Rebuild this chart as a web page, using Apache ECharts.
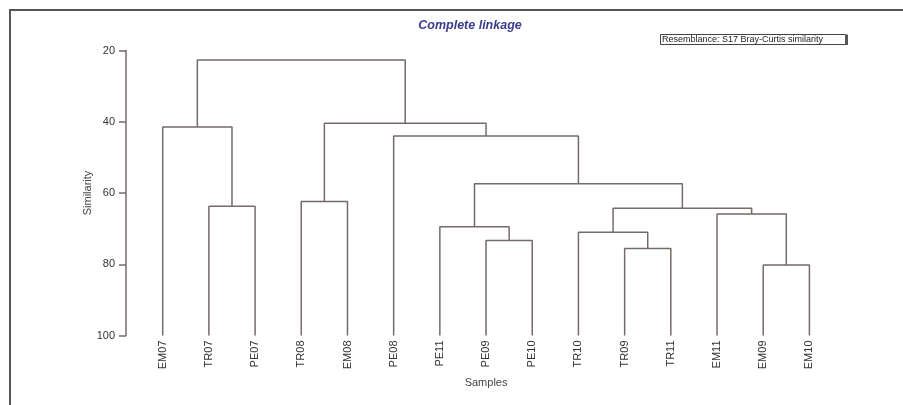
<!DOCTYPE html>
<html>
<head>
<meta charset="utf-8">
<script src="https://cdn.jsdelivr.net/npm/echarts@6/dist/echarts.min.js"></script>
<style>html,body{margin:0;padding:0;background:#fff}#c{width:903px;height:405px}</style>
</head>
<body>
<div id="c"></div>
<script>
// Leaves (left to right)
var leaves = ['EM07','TR07','PE07','TR08','EM08','PE08','PE11','PE09','PE10','TR10','TR09','TR11','EM11','EM09','EM10'];
// Merges: [childA, childB, similarity]; ids 0..14 are leaves, 15+k is merge k
var mergeA = [1, 0, 3, 7, 6, 10, 9, 13, 12, 21, 19, 5, 17, 16];
var mergeB = [2, 15, 4, 8, 18, 11, 20, 14, 22, 23, 24, 25, 26, 27];
var mergeH = [63.7, 41.5, 62.4, 73.3, 69.5, 75.6, 71.0, 80.2, 65.9, 64.3, 57.4, 44.0, 40.4, 22.7];
var yTicks = [20, 40, 60, 80, 100];

var nodeX = leaves.map(function(_, i){ return i; });
var nodeH = leaves.map(function(){ return 100; });
var series = [];
for (var k = 0; k < mergeA.length; k++) {
  var a = mergeA[k], b = mergeB[k], h = mergeH[k];
  series.push({
    type: 'line', xAxisIndex: 1, yAxisIndex: 0, symbol: 'none', silent: true,
    lineStyle: { color: '#746a68', width: 1.5 },
    data: [[nodeX[a], nodeH[a]], [nodeX[a], h], [nodeX[b], h], [nodeX[b], nodeH[b]]],
    animation: false
  });
  nodeX.push((nodeX[a] + nodeX[b]) / 2);
  nodeH.push(h);
}

var chart = echarts.init(document.getElementById('c'), null, { renderer: 'canvas' });
chart.setOption({
  animation: false,
  backgroundColor: '#fff',
  title: {
    text: 'Complete linkage', left: 465, top: 14, textAlign: 'center',
    textStyle: { fontFamily: 'Liberation Sans, Arial', fontSize: 12.5, fontWeight: 'bold', fontStyle: 'italic', color: '#3b3b8c' }
  },
  grid: { left: 139.6, top: 50.5, width: 692.9, height: 285 },
  yAxis: {
    type: 'value', inverse: true, min: 20, max: 100, interval: 20, offset: 13.6,
    name: 'Similarity', nameLocation: 'middle', nameGap: 33, nameRotate: 90, nameMoveOverlap: false,
    nameTextStyle: { fontFamily: 'Liberation Sans, Arial', fontSize: 11, color: '#444' },
    axisLine: { show: true, onZero: false, lineStyle: { color: '#746a68', width: 1.5 } },
    axisTick: { show: true, length: 7, lineStyle: { color: '#746a68', width: 1.5 } },
    axisLabel: { margin: 11, fontFamily: 'Liberation Sans, Arial', fontSize: 11, color: '#333',
      formatter: function(v){ return yTicks.indexOf(v) >= 0 ? String(v) : ''; } },
    splitLine: { show: false }
  },
  xAxis: [{
    type: 'category', data: leaves, boundaryGap: true, position: 'bottom',
    name: 'Samples', nameLocation: 'middle', nameGap: 42, nameMoveOverlap: false,
    nameTextStyle: { fontFamily: 'Liberation Sans, Arial', fontSize: 11, color: '#444' },
    axisLine: { show: false, onZero: false }, axisTick: { show: false }, splitLine: { show: false },
    axisLabel: { rotate: 90, margin: 5, interval: 0, fontFamily: 'Liberation Sans, Arial', fontSize: 11, color: '#333' }
  }, {
    type: 'value', min: -0.5, max: leaves.length - 0.5, show: false, position: 'bottom',
    axisLine: { onZero: false }
  }],
  graphic: [
    { type: 'polyline', shape: { points: [[10, 405], [10, 10], [903, 10]] }, style: { stroke: '#555', lineWidth: 2, fill: null } },
    { type: 'rect', shape: { x: 660.5, y: 34.5, width: 185, height: 10 }, style: { fill: '#fff', stroke: '#444', lineWidth: 1 } },
    { type: 'line', shape: { x1: 846.5, y1: 34.5, x2: 846.5, y2: 45 }, style: { stroke: '#555', lineWidth: 3 } },
    { type: 'text', x: 662, y: 39.8, style: { text: 'Resemblance: S17 Bray-Curtis similarity', fontFamily: 'Liberation Sans, Arial', fontSize: 9, fill: '#222', verticalAlign: 'middle' } }
  ],
  series: series
});
</script>
</body>
</html>
